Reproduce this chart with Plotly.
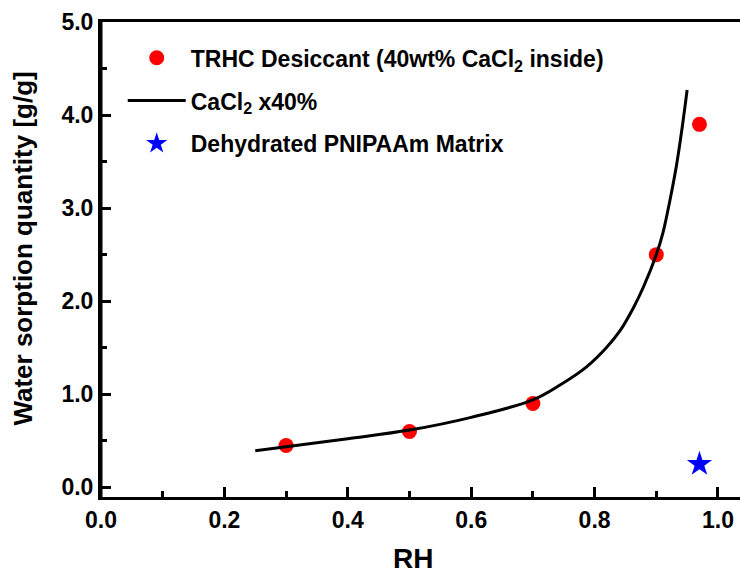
import plotly.graph_objects as go

# Measured sorption of the TRHC desiccant
rh_trhc = [0.30, 0.50, 0.70, 0.90, 0.97]
q_trhc = [0.45, 0.60, 0.90, 2.50, 3.90]

# Reference isotherm for CaCl2 scaled to 40 %
rh_cacl2 = [0.250, 0.300, 0.400, 0.500, 0.600, 0.700, 0.744, 0.787, 0.819,
            0.841, 0.863, 0.879, 0.900, 0.911, 0.922, 0.933, 0.941, 0.950]
q_cacl2 = [0.393, 0.435, 0.522, 0.615, 0.752, 0.940, 1.100, 1.295, 1.500,
           1.680, 1.930, 2.150, 2.500, 2.740, 3.080, 3.470, 3.820, 4.270]

# Dehydrated matrix alone
rh_pnipaam = [0.97]
q_pnipaam = [0.25]

x_ticks = [0.0, 0.2, 0.4, 0.6, 0.8, 1.0]
y_ticks = [0.0, 1.0, 2.0, 3.0, 4.0, 5.0]

FONT = "Liberation Sans"

fig = go.Figure()
fig.add_trace(go.Scatter(
    x=rh_trhc, y=q_trhc, mode="markers", legendgroup="a",
    name="TRHC Desiccant (40wt% CaCl<sub>2</sub> inside)",
    marker=dict(symbol="circle", size=15, color="#ff0000"),
))
fig.add_trace(go.Scatter(
    x=rh_cacl2, y=q_cacl2, mode="lines", legendgroup="b",
    name="CaCl<sub>2</sub> x40%",
    line=dict(color="black", width=3, shape="spline", smoothing=1.0),
))
fig.add_trace(go.Scatter(
    x=rh_pnipaam, y=q_pnipaam, mode="markers", legendgroup="c",
    name="Dehydrated PNIPAAm Matrix",
    marker=dict(symbol="star", size=19, color="#0000ff"),
))

axis_common = dict(
    showgrid=False, zeroline=False,
    ticks="inside", ticklen=10, tickwidth=3, tickcolor="black",
    tickformat=".1f",
    tickfont=dict(family=FONT, size=23, color="black", weight="bold"),
)

fig.update_xaxes(
    range=[0, 1.0357], tickvals=x_ticks,
    showline=True, linecolor="black", linewidth=3, mirror=True,
    minor=dict(dtick=0.1, ticks="inside", ticklen=6, tickwidth=3,
               tickcolor="black", showgrid=False),
    **axis_common,
)
fig.update_yaxes(
    range=[-0.104, 5.0], tickvals=y_ticks,
    showline=True, linecolor="black", linewidth=3,
    minor=dict(dtick=0.5, ticks="inside", ticklen=6, tickwidth=3,
               tickcolor="black", showgrid=False),
    **axis_common,
)

# left frame edge of the plot area
fig.add_shape(
    type="line", xref="paper", yref="paper",
    x0=0, x1=0, y0=0, y1=1,
    line=dict(color="black", width=3), layer="above",
)

fig.add_annotation(
    text="RH", xref="paper", yref="paper", x=0.489, y=-0.1305,
    xanchor="center", yanchor="middle", showarrow=False,
    font=dict(family=FONT, size=28, color="black", weight="bold"),
)
fig.add_annotation(
    text="Water sorption quantity [g/g]", xref="paper", yref="paper",
    x=-0.122, y=0.523, textangle=-90,
    xanchor="center", yanchor="middle", showarrow=False,
    font=dict(family=FONT, size=26, color="black", weight="bold"),
)

fig.update_layout(
    template="none",
    width=740, height=573,
    margin=dict(l=101, r=0, t=22, b=76),
    paper_bgcolor="white", plot_bgcolor="white",
    showlegend=True,
    legend=dict(
        x=0.034, y=0.97, xanchor="left", yanchor="top",
        bgcolor="rgba(0,0,0,0)", borderwidth=0,
        tracegroupgap=10, itemwidth=58,
        font=dict(family=FONT, size=23, color="black", weight="bold"),
    ),
)

fig.write_html("out.html")
